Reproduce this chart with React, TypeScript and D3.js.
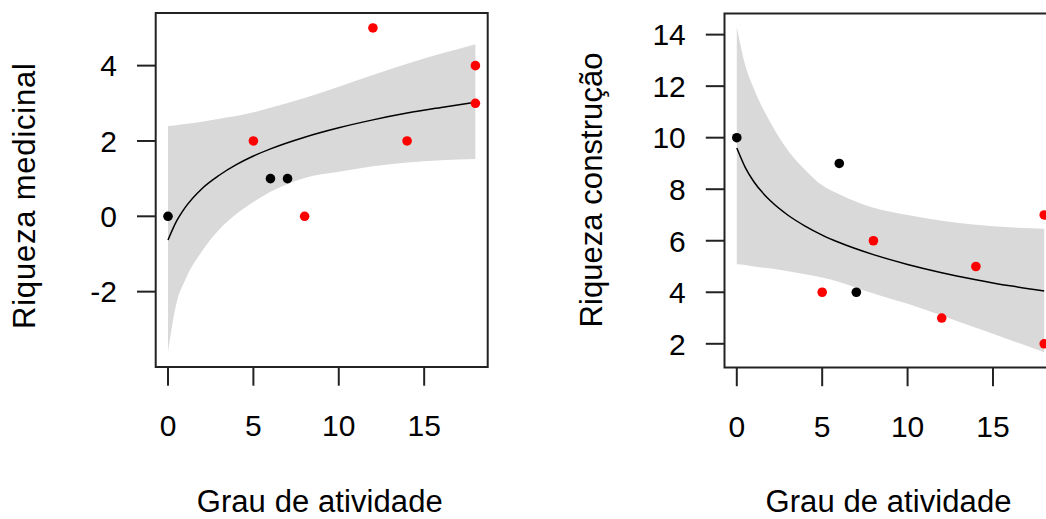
import * as d3 from "d3";

// grau de atividade (x) for the points
const pointX = [0, 6, 7, 5, 8, 12, 14, 18, 18];
const pointGroup = ["a", "a", "a", "b", "b", "b", "b", "b", "b"];
const medicinalY = [0, 1, 1, 2, 0, 5, 2, 4, 3];
const construcaoY = [10, 9, 4, 4, 6, 3, 5, 7, 2];

// fitted curve + confidence band
const fitX = [0, 0.5, 1, 2, 3, 4, 5, 6, 8, 10, 12, 14, 16, 18];
const medicinalFit = [-0.63, -0.13, 0.23, 0.74, 1.09, 1.37, 1.6, 1.79, 2.1, 2.35, 2.56, 2.74, 2.89, 3.03];
const medicinalLow = [-3.6, -2.3, -1.7, -0.92, -0.35, 0.06, 0.38, 0.65, 1.02, 1.18, 1.33, 1.43, 1.49, 1.52];
const medicinalHigh = [2.4, 2.42, 2.45, 2.51, 2.59, 2.66, 2.76, 2.88, 3.14, 3.44, 3.75, 4.05, 4.32, 4.57];
const construcaoFit = [9.6, 8.84, 8.29, 7.53, 6.99, 6.57, 6.22, 5.93, 5.46, 5.08, 4.76, 4.49, 4.25, 4.05];
const construcaoLow = [5.09, 5.06, 5.0, 4.92, 4.82, 4.7, 4.57, 4.4, 3.95, 3.55, 3.1, 2.62, 2.15, 1.67];
const construcaoHigh = [14.3, 12.8, 11.9, 10.55, 9.5, 8.75, 8.15, 7.8, 7.28, 7.0, 6.78, 6.62, 6.52, 6.47];

const xTicks = [0, 5, 10, 15];
const medicinalTicks = [-2, 0, 2, 4];
const construcaoTicks = [2, 4, 6, 8, 10, 12, 14];

const FONT = "'Liberation Sans', Arial, sans-serif";
const FS = 30;

type PanelProps = {
  left: number;
  top: number;
  yDomain: [number, number];
  ys: number[];
  fit: number[];
  low: number[];
  high: number[];
  yTicks: number[];
  yLabel: string;
  yLabelPos: [number, number, number]; // baseline x, centre y, length
};

const Panel = ({ left, top, yDomain, ys, fit, low, high, yTicks, yLabel, yLabelPos }: PanelProps) => {
  const w = 332;
  const h = 354;
  const x = d3.scaleLinear().domain([-0.72, 18.72]).range([left, left + w]);
  const y = d3.scaleLinear().domain(yDomain).range([top + h, top]);
  const tick = 18.7;

  const band = d3
    .area<number>()
    .x((_, i) => x(fitX[i]))
    .y0((_, i) => y(low[i]))
    .y1((_, i) => y(high[i]))
    .curve(d3.curveMonotoneX);
  const line = d3
    .line<number>()
    .x((_, i) => x(fitX[i]))
    .y((d) => y(d))
    .curve(d3.curveMonotoneX);

  return (
    <g>
      <path d={band(fit) ?? ""} fill="#d9d9d9" />
      <path d={line(fit) ?? ""} fill="none" stroke="#000" strokeWidth={1.5} />
      {pointX.map((px, i) => (
        <circle
          key={i}
          cx={x(px)}
          cy={y(ys[i])}
          r={4.8}
          fill={pointGroup[i] === "a" ? "#000" : "#ff0000"}
        />
      ))}
      <rect x={left} y={top} width={w} height={h} fill="none" stroke="#222" strokeWidth={2} />
      {xTicks.map((t) => (
        <g key={t}>
          <line x1={x(t)} x2={x(t)} y1={top + h} y2={top + h + tick} stroke="#222" strokeWidth={2} />
          <text x={x(t)} y={top + h + 69} textAnchor="middle" fontFamily={FONT} fontSize={FS} fill="#000">
            {t}
          </text>
        </g>
      ))}
      {yTicks.map((t) => (
        <g key={t}>
          <line x1={left - tick} x2={left} y1={y(t)} y2={y(t)} stroke="#222" strokeWidth={2} />
          <text
            x={left - tick - 20}
            y={y(t)}
            dy="0.36em"
            textAnchor="end"
            fontFamily={FONT}
            fontSize={FS}
            fill="#000"
          >
            {t}
          </text>
        </g>
      ))}
      <text
        x={left + w / 2 - 2}
        y={512}
        textAnchor="middle"
        fontFamily={FONT}
        fontSize={31}
        textLength={246}
        fill="#000"
      >
        Grau de atividade
      </text>
      <text
        transform={`translate(${yLabelPos[0]},${yLabelPos[1]}) rotate(-90)`}
        textAnchor="middle"
        fontFamily={FONT}
        fontSize={31}
        textLength={yLabelPos[2]}
        fill="#000"
      >
        {yLabel}
      </text>
    </g>
  );
};

export default function App() {
  return (
    <svg width={1046} height={519} style={{ position: "absolute", left: 0, top: 0, background: "#fff" }}>
      <Panel
        left={155.7}
        top={13}
        yDomain={[-4.0, 5.397]}
        ys={medicinalY}
        fit={medicinalFit}
        low={medicinalLow}
        high={medicinalHigh}
        yTicks={medicinalTicks}
        yLabel="Riqueza medicinal"
        yLabelPos={[35, 196, 266]}
      />
      <Panel
        left={724.5}
        top={13.5}
        yDomain={[1.08, 14.82]}
        ys={construcaoY}
        fit={construcaoFit}
        low={construcaoLow}
        high={construcaoHigh}
        yTicks={construcaoTicks}
        yLabel="Riqueza construção"
        yLabelPos={[602, 190, 275]}
      />
    </svg>
  );
}
